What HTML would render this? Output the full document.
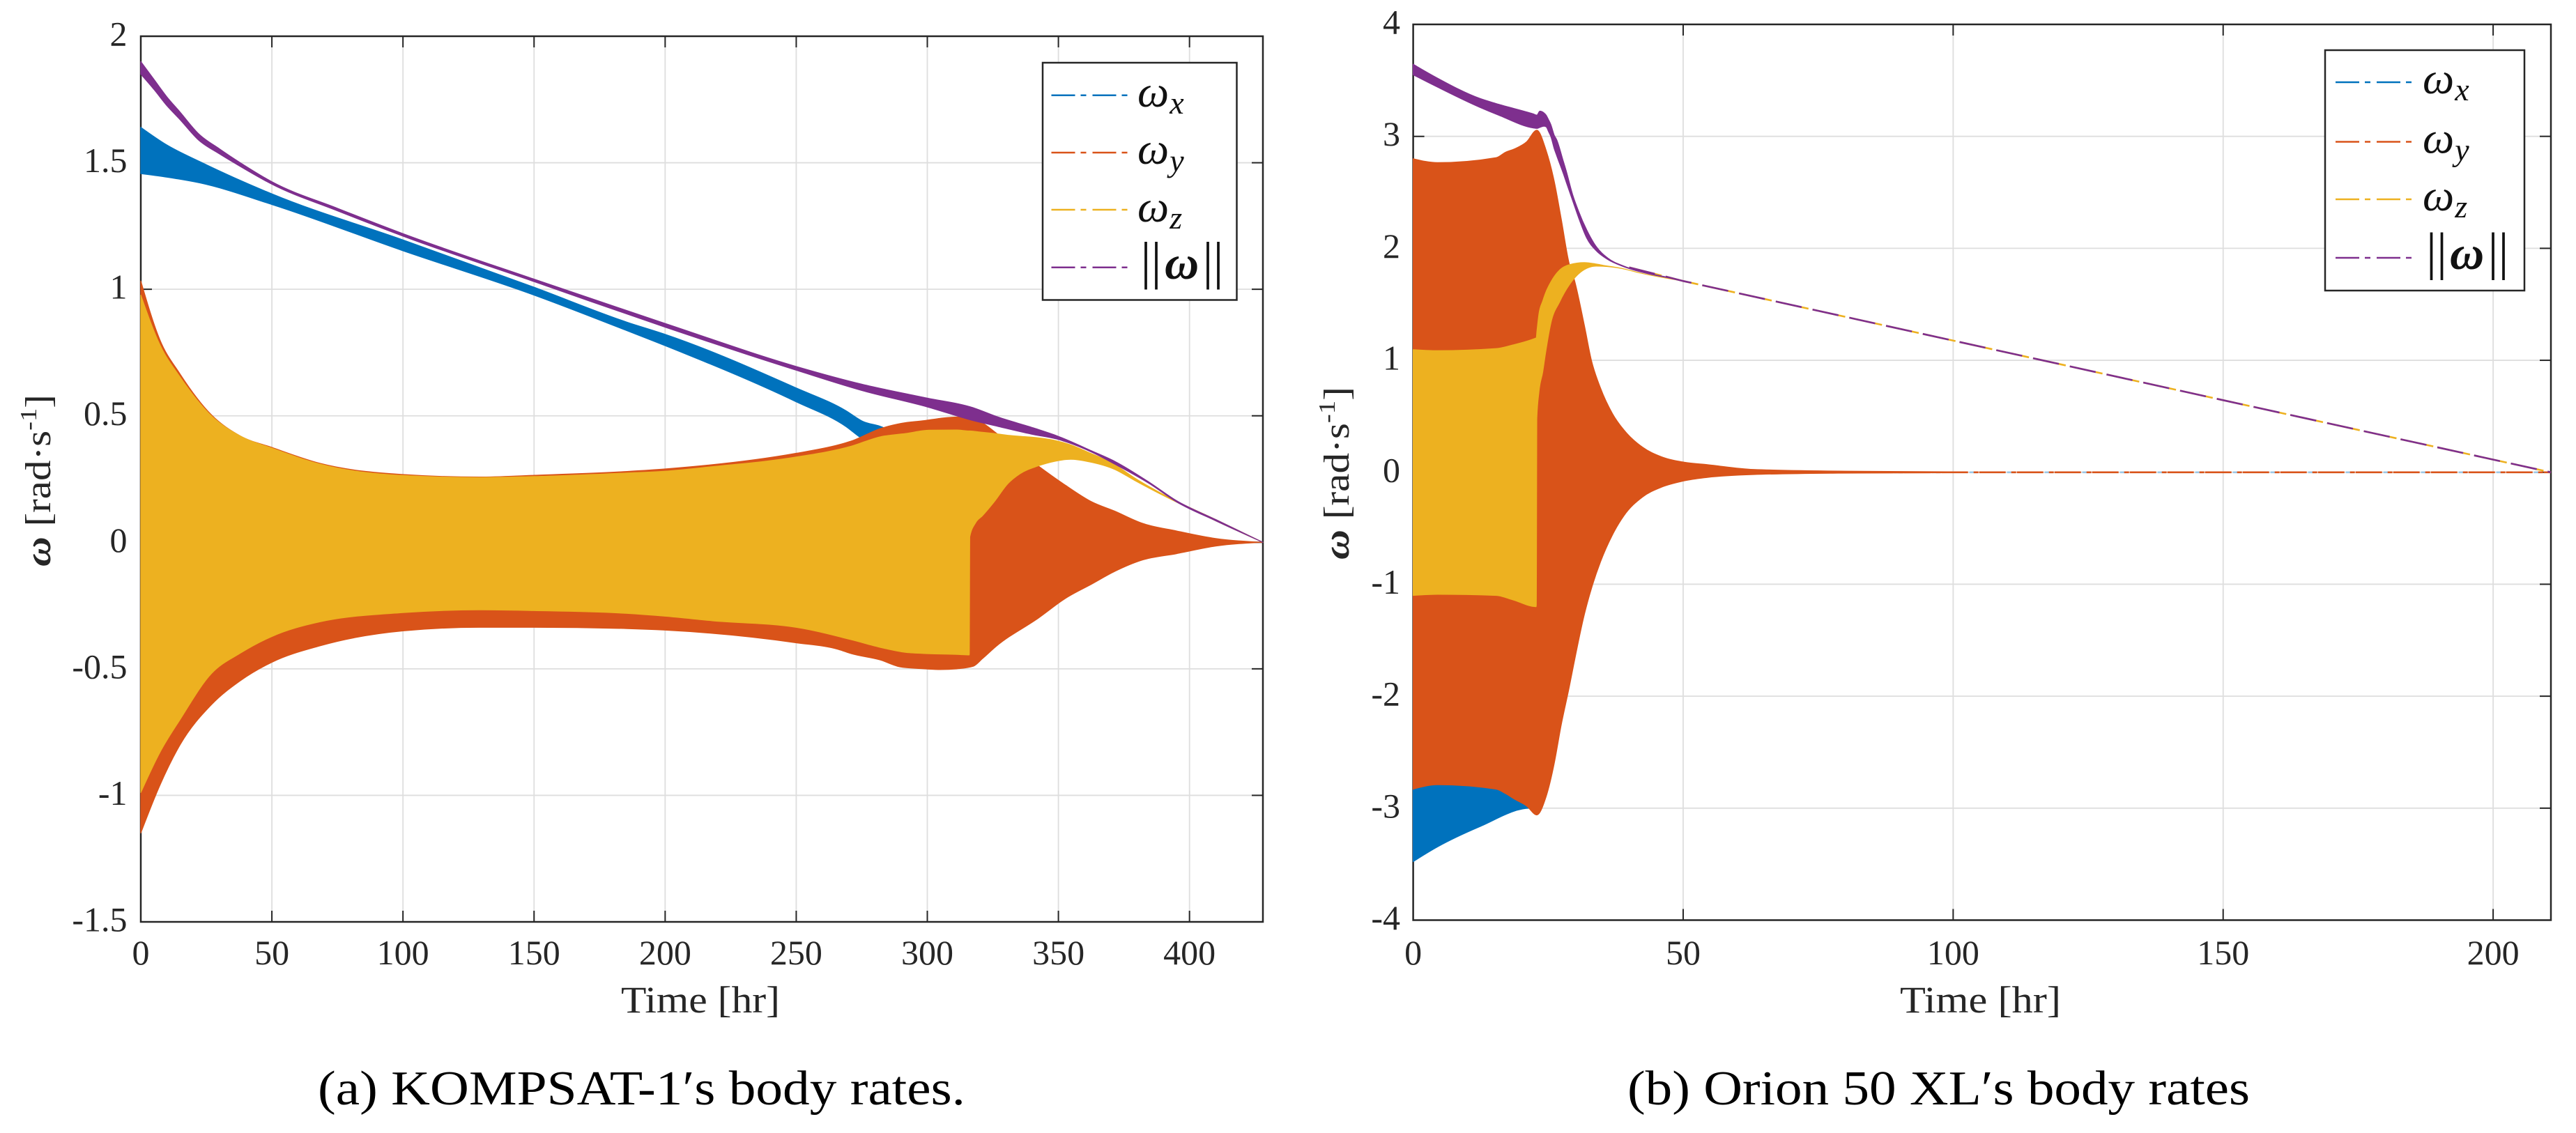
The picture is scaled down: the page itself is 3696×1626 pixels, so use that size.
<!DOCTYPE html>
<html lang="en">
<head>
<meta charset="utf-8">
<title>Body rates</title>
<style>
html,body{margin:0;padding:0;background:#fff;}
svg{display:block;}
text{font-family:"Liberation Serif","DejaVu Serif",serif;fill:#262626;}
</style>
</head>
<body>
<svg id="fig" xmlns="http://www.w3.org/2000/svg" width="3696" height="1626" viewBox="0 0 3696 1626">
<rect x="0" y="0" width="3696" height="1626" fill="#ffffff"/>
<g id="plotA"></g>
<g id="plotB"></g>

<g>
<rect x="1496" y="90" width="278.5" height="340.5" fill="#fff" stroke="#262626" stroke-width="2.5"/>
<line x1="1508.5" x2="1620" y1="136.7" y2="136.7" stroke="#0072BD" stroke-width="2.5" stroke-dasharray="34 8 8 9"/>
<line x1="1508.5" x2="1620" y1="219" y2="219" stroke="#D95319" stroke-width="2.5" stroke-dasharray="34 8 8 9"/>
<line x1="1508.5" x2="1620" y1="301" y2="301" stroke="#EDB120" stroke-width="2.5" stroke-dasharray="34 8 8 9"/>
<line x1="1508.5" x2="1620" y1="383.7" y2="383.7" stroke="#7E2F8E" stroke-width="2.5" stroke-dasharray="34 8 8 9"/>
<text x="1632" y="153" font-size="64" font-style="italic" style="fill:#111">ω<tspan font-size="46" dy="10" dx="1">x</tspan></text>
<text x="1632" y="235" font-size="64" font-style="italic" style="fill:#111">ω<tspan font-size="46" dy="11" dx="1">y</tspan></text>
<text x="1632" y="318" font-size="64" font-style="italic" style="fill:#111">ω<tspan font-size="46" dy="10" dx="1">z</tspan></text>
<text x="1636.5" y="399.5" font-size="75" style="fill:#111">||</text>
<text x="1671" y="400" font-size="68" font-weight="bold" font-style="italic" style="fill:#111">ω</text>
<text x="1725.5" y="399.5" font-size="75" style="fill:#111">||</text>
</g>

<g>
<rect x="3336" y="72" width="286" height="345" fill="#fff" stroke="#262626" stroke-width="2.5"/>
<line x1="3351" x2="3463" y1="118" y2="118" stroke="#0072BD" stroke-width="2.5" stroke-dasharray="34 8 8 9"/>
<line x1="3351" x2="3463" y1="203.5" y2="203.5" stroke="#D95319" stroke-width="2.5" stroke-dasharray="34 8 8 9"/>
<line x1="3351" x2="3463" y1="286" y2="286" stroke="#EDB120" stroke-width="2.5" stroke-dasharray="34 8 8 9"/>
<line x1="3351" x2="3463" y1="370" y2="370" stroke="#7E2F8E" stroke-width="2.5" stroke-dasharray="34 8 8 9"/>
<text x="3476" y="134" font-size="64" font-style="italic" style="fill:#111">ω<tspan font-size="46" dy="10" dx="1">x</tspan></text>
<text x="3476" y="219.5" font-size="64" font-style="italic" style="fill:#111">ω<tspan font-size="46" dy="11" dx="1">y</tspan></text>
<text x="3476" y="302" font-size="64" font-style="italic" style="fill:#111">ω<tspan font-size="46" dy="10" dx="1">z</tspan></text>
<text x="3481" y="386" font-size="75" style="fill:#111">||</text>
<text x="3515" y="386" font-size="68" font-weight="bold" font-style="italic" style="fill:#111">ω</text>
<text x="3569.5" y="386" font-size="75" style="fill:#111">||</text>
</g>

<text x="891" y="1453" font-size="54" textLength="228" lengthAdjust="spacingAndGlyphs">Time [hr]</text>
<text x="2726" y="1453" font-size="54" textLength="231" lengthAdjust="spacingAndGlyphs">Time [hr]</text>

<text transform="translate(72,813) rotate(-90)" font-size="52" textLength="247" lengthAdjust="spacingAndGlyphs"><tspan font-weight="bold" font-style="italic">ω</tspan> [rad·s<tspan font-size="34" dy="-20">-1</tspan><tspan dy="20">]</tspan></text>
<text transform="translate(1935,803) rotate(-90)" font-size="52" textLength="248" lengthAdjust="spacingAndGlyphs"><tspan font-weight="bold" font-style="italic">ω</tspan> [rad·s<tspan font-size="34" dy="-20">-1</tspan><tspan dy="20">]</tspan></text>

<text x="456" y="1585" font-size="70" textLength="929" lengthAdjust="spacingAndGlyphs" style="fill:#000">(a) KOMPSAT-1′s body rates.</text>
<text x="2335" y="1585" font-size="70" textLength="893" lengthAdjust="spacingAndGlyphs" style="fill:#000">(b) Orion 50 XL′s body rates</text>
</svg>

<script>
/* ---------- KOMPSAT-1 data ---------- */
const aXTicks = [0, 50, 100, 150, 200, 250, 300, 350, 400];
const aYTicks = [-1.5, -1, -0.5, 0, 0.5, 1, 1.5, 2];
const aYTickLabels = ['-1.5', '-1', '-0.5', '0', '0.5', '1', '1.5', '2'];

const aWxTime = [0, 10, 22.6, 50, 100, 150, 185.5, 200, 250, 269, 275, 284, 290, 300, 316, 354, 428];
const aWxUpper = [1.64, 1.57, 1.504, 1.377, 1.195, 1.008, 0.87, 0.822, 0.61, 0.52, 0.48, 0.449, 0.40, 0.30, 0.2, 0.02, 0];
const aWxLower = [1.457, 1.443, 1.42, 1.335, 1.152, 0.977, 0.836, 0.777, 0.555, 0.457, 0.41, 0.36, 0.3, 0.2, 0.1, -0.02, 0];

const aWyTime = [0, 7.3, 15, 27, 38, 50, 68.4, 100, 129, 150, 185.5, 200, 250, 266, 271, 282, 290, 298.9, 305, 311.3, 317.5, 321, 326.4, 342.3, 352.9, 362.7, 371.5, 382, 395, 410, 428];
const aWyUpper = [1.033, 0.80, 0.665, 0.503, 0.42, 0.375, 0.312, 0.268, 0.258, 0.265, 0.28, 0.29, 0.352, 0.385, 0.40, 0.449, 0.47, 0.481, 0.49, 0.495, 0.488, 0.472, 0.431, 0.302, 0.224, 0.16, 0.123, 0.075, 0.045, 0.015, 0];
const aWyLower = [-1.149, -0.96, -0.80, -0.641, -0.547, -0.474, -0.409, -0.35, -0.336, -0.336, -0.341, -0.347, -0.397, -0.423, -0.44, -0.465, -0.493, -0.5, -0.503, -0.5, -0.49, -0.46, -0.41, -0.3, -0.22, -0.165, -0.115, -0.07, -0.045, -0.015, 0];

const aWzTime = [0, 7.3, 15, 27, 38, 50, 68.4, 100, 129, 150, 185.5, 200, 218, 250, 271, 282, 291.8, 300.7, 311.3, 316, 316.2, 318.4, 321, 325.5, 330.8, 335.2, 342.3, 348.5, 354.7, 360.9, 371.5, 379, 391.7, 410, 428];
const aWzUpper = [0.977, 0.78, 0.653, 0.499, 0.42, 0.372, 0.309, 0.264, 0.256, 0.26, 0.274, 0.281, 0.299, 0.337, 0.38, 0.417, 0.43, 0.443, 0.444, 0.44, 0.44, 0.438, 0.435, 0.43, 0.423, 0.419, 0.413, 0.403, 0.385, 0.358, 0.307, 0.255, 0.18, 0.09, 0];
const aWzLower = [-0.989, -0.83, -0.70, -0.518, -0.438, -0.372, -0.314, -0.278, -0.267, -0.27, -0.281, -0.292, -0.31, -0.336, -0.385, -0.415, -0.435, -0.44, -0.443, -0.445, 0.022, 0.077, 0.105, 0.16, 0.233, 0.27, 0.302, 0.32, 0.328, 0.32, 0.288, 0.245, 0.176, 0.085, 0];

const aNormTime = [0, 5, 10, 15, 22, 30, 38, 50, 75, 100, 150, 200, 250, 275, 300, 317.5, 327, 340.5, 349.4, 363, 371.5, 385, 395, 410, 428];
const aNormUpper = [1.90, 1.83, 1.76, 1.70, 1.615, 1.555, 1.50, 1.425, 1.32, 1.22, 1.04, 0.865, 0.695, 0.625, 0.57, 0.532, 0.495, 0.452, 0.421, 0.36, 0.32, 0.235, 0.165, 0.09, 0];
const aNormLower = [1.85, 1.79, 1.725, 1.67, 1.59, 1.535, 1.485, 1.415, 1.31, 1.21, 1.03, 0.85, 0.68, 0.60, 0.535, 0.481, 0.458, 0.426, 0.408, 0.355, 0.309, 0.23, 0.16, 0.085, 0];

/* ---------- Orion 50 XL data ---------- */
const bXTicks = [0, 50, 100, 150, 200];
const bYTicks = [-4, -3, -2, -1, 0, 1, 2, 3, 4];
const bYTickLabels = ['-4', '-3', '-2', '-1', '0', '1', '2', '3', '4'];

const bWxTime = [0, 4.5, 12.3, 21.7, 22.9, 26, 28.9];
const bWxUpper = [-2.7, -2.7, -2.7, -2.8, -2.9, -2.3, -1.85];
const bWxLower = [-3.477, -3.346, -3.166, -3.0, -3.02, -2.45, -1.88];

const bWyTime = [0, 4.5, 15.4, 17.1, 18.8, 21, 22.9, 24.6, 26.13, 27.4, 28.9, 29.8, 31.7, 33, 34.7, 36.9, 39, 42.5, 45.9, 50.2, 54.5, 63, 78.7, 100];
const bWyUpper = [2.80, 2.765, 2.81, 2.858, 2.889, 2.951, 3.055, 2.878, 2.598, 2.267, 1.862, 1.727, 1.312, 1.001, 0.752, 0.524, 0.379, 0.223, 0.14, 0.089, 0.068, 0.025, 0.01, 0.004];
const bWyLower = [-2.83, -2.79, -2.83, -2.87, -2.92, -2.98, -3.06, -2.9, -2.6, -2.26, -1.92, -1.7, -1.27, -1.04, -0.8, -0.56, -0.39, -0.22, -0.135, -0.077, -0.046, -0.02, -0.008, -0.004];

const bWzTime = [0, 4.5, 15.4, 18.5, 22.7, 22.8, 22.9, 23.3, 24, 24.5, 25.5, 27.1, 29, 31.7, 33.9, 35.2, 38.6, 42, 50];
const bWzUpper = [1.095, 1.086, 1.105, 1.137, 1.198, 1.2, 1.25, 1.416, 1.53, 1.6, 1.70, 1.805, 1.855, 1.873, 1.86, 1.848, 1.821, 1.78, 1.708];
const bWzLower = [-1.10, -1.09, -1.10, -1.14, -1.2, -1.2, 0.483, 0.72, 0.897, 1.06, 1.333, 1.52, 1.68, 1.81, 1.841, 1.84, 1.82, 1.78, 1.708];

const bNormTime = [0, 4.5, 12.3, 15.8, 22.25, 22.9, 23.46, 24.2, 24.62, 25.05, 25.48, 26.13, 26.56, 27.85, 28.28, 29.57, 30.65, 32.15, 33.87, 36.02, 39.04, 42.5, 48.07];
const bNormUpper = [3.644, 3.52, 3.34, 3.287, 3.20, 3.19, 3.225, 3.21, 3.19, 3.15, 3.107, 3.01, 2.972, 2.77, 2.702, 2.474, 2.329, 2.163, 2.018, 1.914, 1.841, 1.79, 1.734];
const bNormLower = [3.55, 3.44, 3.26, 3.19, 3.075, 3.071, 3.08, 3.09, 3.085, 3.044, 3.0, 2.889, 2.83, 2.661, 2.6, 2.42, 2.27, 2.09, 1.98, 1.90, 1.835, 1.785, 1.73];

const bNormTailTime = [40, 50, 150, 210.7];
const bNormTail = [1.83, 1.708, 0.644, 0];
const bRateTailTime = [63, 210.7];
const bRateTail = [0, 0];

const SVGNS = 'http://www.w3.org/2000/svg';
const BLUE = '#0072BD', ORANGE = '#D95319', YELLOW = '#EDB120', PURPLE = '#7E2F8E';

function add(parent, tag) {
  const el = document.createElementNS(SVGNS, tag);
  parent.appendChild(el);
  return el;
}

function makeAxes(left, right, tMax, top, bottom, vMin, vMax) {
  return {
    left: left, right: right, top: top, bottom: bottom,
    x: function (t) { return left + (right - left) * t / tMax; },
    y: function (v) { return bottom - (bottom - top) * (v - vMin) / (vMax - vMin); }
  };
}

function hline(parent, x1, x2, y, color, width) {
  const el = add(parent, 'line');
  el.setAttribute('x1', x1); el.setAttribute('x2', x2);
  el.setAttribute('y1', y); el.setAttribute('y2', y);
  el.setAttribute('stroke', color); el.setAttribute('stroke-width', width);
  return el;
}

function vline(parent, x, y1, y2, color, width) {
  const el = add(parent, 'line');
  el.setAttribute('x1', x); el.setAttribute('x2', x);
  el.setAttribute('y1', y1); el.setAttribute('y2', y2);
  el.setAttribute('stroke', color); el.setAttribute('stroke-width', width);
  return el;
}

function drawFrame(g, ax, xTicks, yTicks, yLabels, yLabelX) {
  const INK = '#262626', GRID = '#dedede', TICK = 16;
  xTicks.forEach(function (t) {
    const x = ax.x(t);
    if (t !== 0) {
      const gridLine = vline(g, x, ax.top, ax.bottom, GRID, 1.8);
      
      
      const topTick = vline(g, x, ax.top, ax.top + TICK, INK, 2);
      
      
      const botTick = vline(g, x, ax.bottom - TICK, ax.bottom, INK, 2);
      
      
    }
    const label = add(g, 'text');
    
    
    label.setAttribute('x', x);
    label.setAttribute('y', 1384);
    label.setAttribute('font-size', 50);
    label.setAttribute('text-anchor', 'middle');
    label.textContent = String(t);
  });
  yTicks.forEach(function (v, i) {
    const y = ax.y(v);
    if (i !== 0 && i !== yTicks.length - 1) {
      const gridLine = hline(g, ax.left, ax.right, y, GRID, 1.8);
      
      
      const leftTick = hline(g, ax.left, ax.left + TICK, y, INK, 2);
      
      
      const rightTick = hline(g, ax.right - TICK, ax.right, y, INK, 2);
      
      
    }
    const label = add(g, 'text');
    
    
    label.setAttribute('x', yLabelX);
    label.setAttribute('y', y + 13.5);
    label.setAttribute('font-size', 50);
    label.setAttribute('text-anchor', 'end');
    label.textContent = yLabels[i];
  });
  const frame = add(g, 'rect');
  
  
  frame.setAttribute('x', ax.left);
  frame.setAttribute('y', ax.top);
  frame.setAttribute('width', ax.right - ax.left);
  frame.setAttribute('height', ax.bottom - ax.top);
  frame.setAttribute('fill', 'none');
  frame.setAttribute('stroke', INK);
  frame.setAttribute('stroke-width', 2.5);
}

/* Monotone cubic tangents so envelope curves stay smooth and never overshoot. */
function tangents(xs, ys) {
  const n = xs.length, m = new Array(n).fill(0), s = [];
  for (let i = 0; i < n - 1; i++) {
    const h = xs[i + 1] - xs[i];
    s.push(h > 0 ? (ys[i + 1] - ys[i]) / h : 0);
  }
  for (let i = 1; i < n - 1; i++) {
    const h0 = xs[i] - xs[i - 1], h1 = xs[i + 1] - xs[i];
    const p = (s[i - 1] * h1 + s[i] * h0) / ((h0 + h1) || 1);
    m[i] = (Math.sign(s[i - 1]) + Math.sign(s[i])) * Math.min(Math.abs(s[i - 1]), Math.abs(s[i]), 0.5 * Math.abs(p));
  }
  m[0] = n > 1 ? (3 * s[0] - m[1]) / 2 : 0;
  m[n - 1] = n > 1 ? (3 * s[n - 2] - m[n - 2]) / 2 : 0;
  return m;
}

function f1(v) { return v.toFixed(1); }

function bandPath(ax, times, upper, lower) {
  const xs = times.map(ax.x);
  const yu = upper.map(ax.y), yl = lower.map(ax.y);
  const mu = tangents(xs, yu), ml = tangents(xs, yl);
  let d = 'M' + f1(xs[0]) + ' ' + f1(yu[0]);
  for (let i = 0; i < xs.length - 1; i++) {
    const h = (xs[i + 1] - xs[i]) / 3;
    d += 'C' + f1(xs[i] + h) + ' ' + f1(yu[i] + h * mu[i]) + ' ' + f1(xs[i + 1] - h) + ' ' + f1(yu[i + 1] - h * mu[i + 1]) + ' ' + f1(xs[i + 1]) + ' ' + f1(yu[i + 1]);
  }
  const last = xs.length - 1;
  d += 'L' + f1(xs[last]) + ' ' + f1(yl[last]);
  for (let i = last; i > 0; i--) {
    const h = (xs[i] - xs[i - 1]) / 3;
    d += 'C' + f1(xs[i] - h) + ' ' + f1(yl[i] - h * ml[i]) + ' ' + f1(xs[i - 1] + h) + ' ' + f1(yl[i - 1] + h * ml[i - 1]) + ' ' + f1(xs[i - 1]) + ' ' + f1(yl[i - 1]);
  }
  return d + 'Z';
}

function drawBand(g, ax, seriesName, color, times, upper, lower) {
  const band = add(g, 'path');
  
  
  band.setAttribute('d', bandPath(ax, times, upper, lower));
  band.setAttribute('fill', color);
  band.setAttribute('stroke', color);
  band.setAttribute('stroke-width', 1.2);
  band.setAttribute('stroke-linejoin', 'round');
}

function drawLine(g, ax, seriesName, color, times, values, dash, offset) {
  const pts = times.map(function (t, i) { return ax.x(t).toFixed(1) + ',' + ax.y(values[i]).toFixed(1); });
  const line = add(g, 'polyline');
  
  
  line.setAttribute('points', pts.join(' '));
  line.setAttribute('fill', 'none');
  line.setAttribute('stroke', color);
  line.setAttribute('stroke-width', 2.6);
  line.setAttribute('stroke-dasharray', dash);
  line.setAttribute('stroke-dashoffset', offset);
}

/* KOMPSAT-1 panel */
const axA = makeAxes(202, 1812, 428, 52, 1323, -1.5, 2);
const gA = document.getElementById('plotA');
drawFrame(gA, axA, aXTicks, aYTicks, aYTickLabels, 182.5);
drawBand(gA, axA, 'omega-x', BLUE, aWxTime, aWxUpper, aWxLower);
drawBand(gA, axA, 'omega-y', ORANGE, aWyTime, aWyUpper, aWyLower);
drawBand(gA, axA, 'omega-z', YELLOW, aWzTime, aWzUpper, aWzLower);
drawBand(gA, axA, 'omega-norm', PURPLE, aNormTime, aNormUpper, aNormLower);

/* Orion 50 XL panel */
const axB = makeAxes(2027.6, 3660, 210.7, 35, 1320.5, -4, 4);
const gB = document.getElementById('plotB');
drawFrame(gB, axB, bXTicks, bYTicks, bYTickLabels, 2009);
drawBand(gB, axB, 'omega-x', BLUE, bWxTime, bWxUpper, bWxLower);
drawLine(gB, axB, 'omega-x-tail', '#9cc7e6', bRateTailTime, bRateTail, '12 42', -40);
drawBand(gB, axB, 'omega-y', ORANGE, bWyTime, bWyUpper, bWyLower);
drawLine(gB, axB, 'omega-y-tail', ORANGE, bRateTailTime, bRateTail, '38 8 7 1', 0);
drawLine(gB, axB, 'omega-z-tail', YELLOW, bNormTailTime, bNormTail, '48 6', 0);
drawBand(gB, axB, 'omega-z', YELLOW, bWzTime, bWzUpper, bWzLower);
drawLine(gB, axB, 'omega-norm-tail', PURPLE, bNormTailTime, bNormTail, '38 16', 0);
drawBand(gB, axB, 'omega-norm', PURPLE, bNormTime, bNormUpper, bNormLower);
</script>
</body>
</html>
